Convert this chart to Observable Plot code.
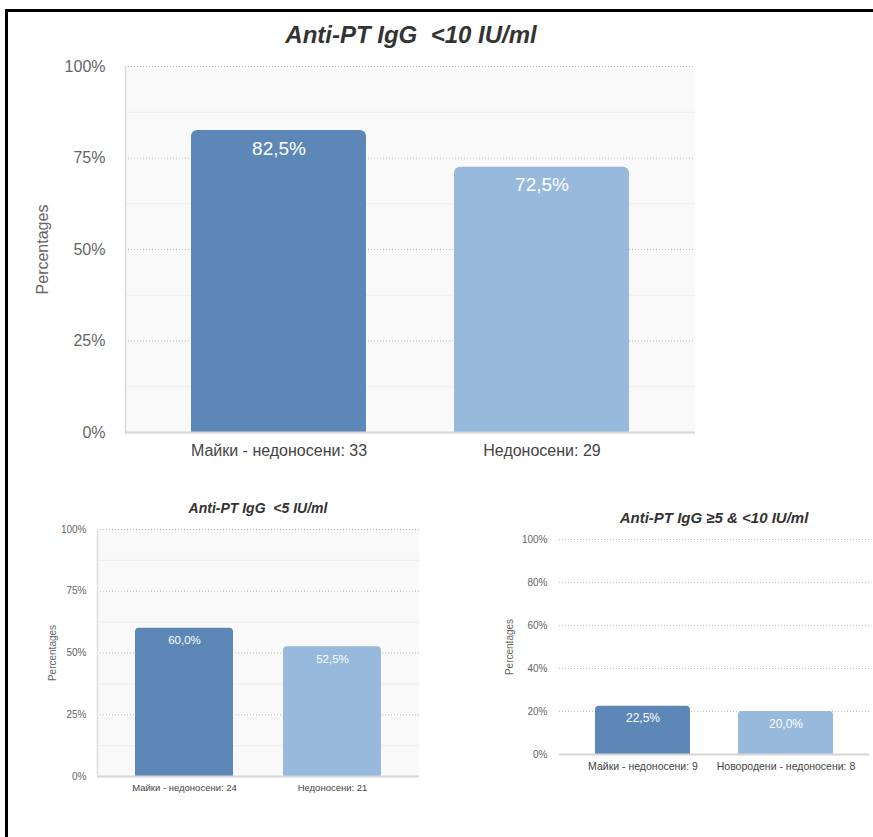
<!DOCTYPE html>
<html><head><meta charset="utf-8">
<script src="https://cdn.jsdelivr.net/npm/d3@7"></script>
<script src="https://cdn.jsdelivr.net/npm/@observablehq/plot@0.6"></script>
<style>
html,body{margin:0;padding:0;background:#fff;width:873px;height:837px;overflow:hidden;position:relative;font-family:"Liberation Sans",Arial,sans-serif;}
#frame{position:absolute;left:5px;top:9px;width:868px;height:828px;border-top:3px solid #000;border-left:3px solid #000;box-sizing:border-box}
.title{position:absolute;font-weight:bold;font-style:italic;color:#333;white-space:pre;transform:translate(-50%,-50%)}
.chart{position:absolute}
</style></head><body>
<div id="frame"></div>
<script>
// ---- data ----
const titles = ["Anti-PT IgG  <10 IU/ml", "Anti-PT IgG  <5 IU/ml", "Anti-PT IgG ≥5 & <10 IU/ml"];
const categories1 = ["Майки - недоносени: 33", "Недоносени: 29"];
const values1 = [82.5, 72.5];
const categories2 = ["Майки - недоносени: 24", "Недоносени: 21"];
const values2 = [60.0, 52.5];
const categories3 = ["Майки - недоносени: 9", "Новородени - недоносени: 8"];
const values3 = [22.5, 20.0];
const ticksQuarter = [0, 25, 50, 75, 100];
const minorQuarter = [12.5, 37.5, 62.5, 87.5];
const ticksFifth = [0, 20, 40, 60, 80, 100];
const yLabel = "Percentages";
const barColors = ["#5d87b6", "#97b9dc"];

const fmt = v => v.toFixed(1).replace(".", ",") + "%";

function addTitle(text, left, top, size) {
  const d = document.createElement("div");
  d.className = "title";
  d.textContent = text;
  d.style.left = left + "px"; d.style.top = top + "px"; d.style.fontSize = size + "px";
  document.body.appendChild(d);
}

function makeChart(o) {
  const data = o.cats.map((c, i) => ({cat: c, val: o.vals[i]}));
  const marks = [];
  if (o.background) marks.push(Plot.frame({fill: "#f9f9f9", stroke: null}));
  if (o.minor) marks.push(Plot.ruleY(o.minor, {stroke: "#ededed", strokeWidth: 1}));
  marks.push(Plot.ruleY(o.ticks.filter(v => v > 0), {stroke: "#bdbdbd", strokeDasharray: "1,2"}));
  if (o.leftLine) marks.push(Plot.frame({anchor: "left", stroke: "#dcdcdc", strokeWidth: 1.5}));
  marks.push(Plot.barY(data, {x: "cat", y: "val", fill: "cat", ry1: o.radius}));
  marks.push(Plot.ruleY([0], {stroke: "#d6d6d6", strokeWidth: 2}));
  marks.push(Plot.text(data, {x: "cat", y: "val", text: d => fmt(d.val), dy: o.valueDy, fill: "white", fontSize: o.valueFont}));
  marks.push(Plot.axisY({ticks: o.ticks, tickFormat: d => d + "%", tickSize: 0, tickPadding: o.tickPadY, fontSize: o.tickFont, label: yLabel, labelAnchor: "center", labelArrow: "none", labelOffset: o.labelOffset, fill: "#666"}));
  marks.push(Plot.axisX({tickSize: 0, tickPadding: o.tickPadX, fontSize: o.xFont, label: null, fill: "#444"}));
  const svg = Plot.plot({
    width: o.width, height: o.height,
    marginLeft: o.ml, marginRight: o.mr, marginTop: o.mt, marginBottom: o.mb,
    x: {domain: o.cats, paddingInner: 0.335, paddingOuter: 0.25, label: null},
    y: {domain: [0, 100], label: null},
    color: {domain: o.cats, range: barColors},
    style: {fontFamily: '"Liberation Sans", Arial, sans-serif', color: "#555", background: "transparent", fontSize: o.tickFont + "px"},
    marks
  });
  svg.classList.add("chart");
  svg.style.left = o.left + "px";
  svg.style.top = o.top + "px";
  svg.style.position = "absolute";
  document.body.appendChild(svg);
}

addTitle(titles[0], 411, 35, 24);
addTitle(titles[1], 258, 508, 14);
addTitle(titles[2], 714, 517, 15);

makeChart({cats: categories1, vals: values1, ticks: ticksQuarter, minor: minorQuarter, background: true, leftLine: true,
  left: 0, top: 40, width: 720, height: 440, ml: 125, mr: 25, mt: 26, mb: 48,
  radius: 6, valueDy: 18, valueFont: 19, tickFont: 16, xFont: 16, tickPadY: 20, tickPadX: 12, labelOffset: 89});
makeChart({cats: categories2, vals: values2, ticks: ticksQuarter, minor: minorQuarter, background: true, leftLine: true,
  left: 0, top: 515, width: 440, height: 290, ml: 97, mr: 21, mt: 14, mb: 29,
  radius: 4, valueDy: 12, valueFont: 11.5, tickFont: 10, xFont: 9.5, tickPadY: 11, tickPadX: 8, labelOffset: 49});
makeChart({cats: categories3, vals: values3, ticks: ticksFifth, minor: null, background: false, leftLine: false,
  left: 440, top: 525, width: 433, height: 270, ml: 119, mr: 4, mt: 14, mb: 41,
  radius: 4, valueDy: 12.5, valueFont: 12, tickFont: 10, xFont: 10.5, tickPadY: 12, tickPadX: 8, labelOffset: 54});
</script>
</body></html>
